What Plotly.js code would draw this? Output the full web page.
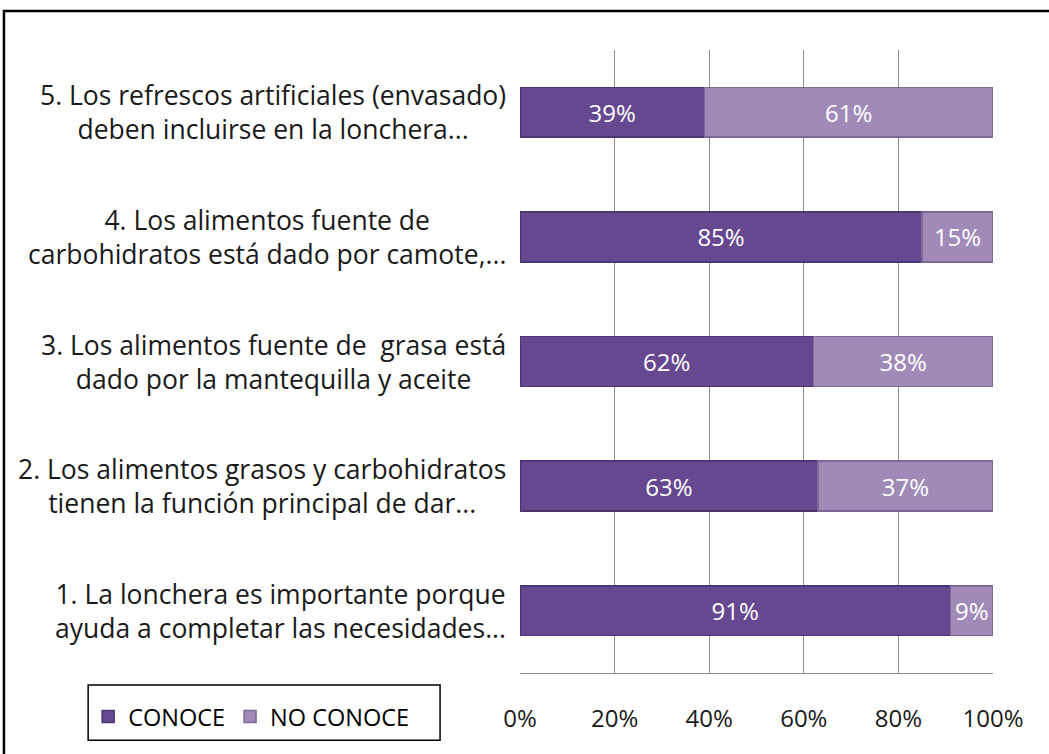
<!DOCTYPE html>
<html>
<head>
<meta charset="utf-8">
<script src="https://cdn.plot.ly/plotly-3.0.1.min.js"></script>
<style>html,body{margin:0;padding:0;background:#fff;}#chart{width:1049px;height:754px;}</style>
</head>
<body>
<div id="chart"></div>
<script>
const categories = [
  "1. La lonchera es importante porque<br>ayuda a completar las necesidades...",
  "2. Los alimentos grasos y carbohidratos<br>tienen la función principal de dar...",
  "3. Los alimentos fuente de  grasa está<br>dado por la mantequilla y aceite",
  "4. Los alimentos fuente de<br>carbohidratos está dado por camote,...",
  "5. Los refrescos artificiales (envasado)<br>deben incluirse en la lonchera..."
];
const conoce = [91, 63, 62, 85, 39];
const noConoce = [9, 37, 38, 15, 61];
const tickVals = [0, 20, 40, 60, 80, 100];
const tickText = ["0%", "20%", "40%", "60%", "80%", "100%"];

const FONT = "'Open Sans', Lato, sans-serif";
const yIdx = categories.map((c, i) => i);

const traces = [
  {
    type: "bar", orientation: "h", name: "CONOCE",
    y: yIdx, x: conoce,
    text: conoce.map(v => v + "%"), textposition: "inside", insidetextanchor: "middle",
    textfont: {family: FONT, size: 24, color: "#ffffff"},
    marker: {color: "#654890", line: {color: "#4c3470", width: 1.5}},
    hoverinfo: "skip"
  },
  {
    type: "bar", orientation: "h", name: "NO CONOCE",
    y: yIdx, x: noConoce,
    text: noConoce.map(v => v + "%"), textposition: "inside", insidetextanchor: "middle",
    textfont: {family: FONT, size: 24, color: "#ffffff"},
    marker: {color: "#a08bb8", line: {color: "#7d6898", width: 1.5}},
    hoverinfo: "skip"
  }
];

const annotations = categories.map((c, i) => ({
  xref: "paper", yref: "y", x: -0.025, y: i, xanchor: "right", yanchor: "middle",
  text: c, showarrow: false, align: "center",
  font: {family: FONT, size: 26.5, color: "#1a1a1a"}
}));

const layout = {
  width: 1049, height: 754,
  margin: {l: 520, r: 56, t: 50, b: 81},
  paper_bgcolor: "#ffffff", plot_bgcolor: "#ffffff",
  barmode: "stack", bargap: 0.6,
  showlegend: true,
  legend: {
    orientation: "h", x: -0.913, y: -0.035, xanchor: "left", yanchor: "top",
    borderwidth: 0, bgcolor: "rgba(0,0,0,0)",
    font: {family: FONT, size: 23.5, color: "#000000"},
    itemwidth: 30, traceorder: "normal"
  },
  xaxis: {
    range: [0, 100], tickvals: tickVals, ticktext: tickText,
    showgrid: true, gridcolor: "#8c8c8c", gridwidth: 1,
    showline: true, linecolor: "#8c8c8c", linewidth: 1,
    zeroline: false, ticks: "", ticklen: 0, ticklabelstandoff: 24,
    tickfont: {family: FONT, size: 24, color: "#1a1a1a"},
    automargin: false
  },
  yaxis: {
    range: [-0.5, 4.5], showticklabels: false, showgrid: false,
    zeroline: false, showline: false, ticks: "", automargin: false
  },
  annotations: annotations,
  shapes: [
    {type: "rect", xref: "paper", yref: "paper",
     x0: -1.091, x1: 1.15, y0: -0.16, y1: 1.0626,
     line: {color: "#000000", width: 2.5}, fillcolor: "rgba(0,0,0,0)", layer: "below"},
    {type: "rect", xref: "paper", yref: "paper",
     x0: -0.913, x1: -0.169, y0: -0.108, y1: -0.0193,
     line: {color: "#000000", width: 1.5}, fillcolor: "#ffffff", layer: "below"}
  ]
};

Plotly.newPlot("chart", traces, layout, {displayModeBar: false, staticPlot: true});
</script>
</body>
</html>
